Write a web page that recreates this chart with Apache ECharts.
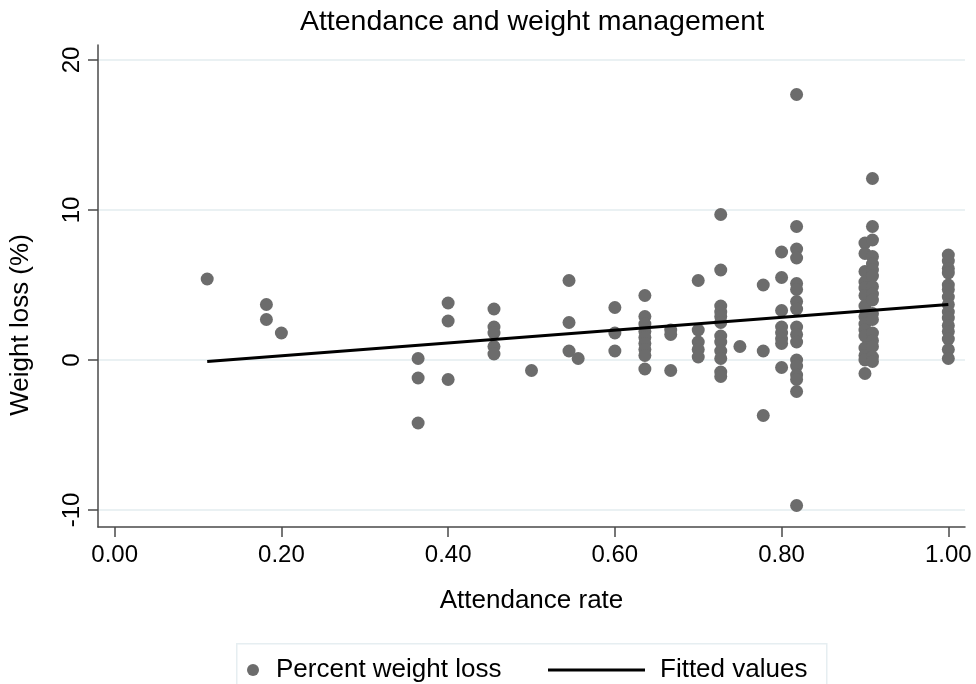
<!DOCTYPE html>
<html>
<head>
<meta charset="utf-8">
<script src="https://cdn.jsdelivr.net/npm/echarts@6/dist/echarts.min.js"></script>
<style>
html,body{margin:0;padding:0;background:#fff;}
#chart{width:976px;height:684px;}
</style>
</head>
<body>
<div id="chart"></div>
<script>
// ---- Data ----
const titleText = 'Attendance and weight management';
const xAxisTitle = 'Attendance rate';
const yAxisTitle = 'Weight loss (%)';
const scatterName = 'Percent weight loss';
const fitName = 'Fitted values';

const xTicks = [0, 0.2, 0.4, 0.6, 0.8, 1.0];
const yTicks = [-10, 0, 10, 20];

// attendance rates (x) and the weight-loss values observed at each
const rates = [0.111, 0.182, 0.2, 0.364, 0.4, 0.455, 0.5, 0.545, 0.556, 0.6, 0.636,
               0.667, 0.7, 0.727, 0.75, 0.778, 0.8, 0.818, 0.9, 0.909, 1.0];
const lossAt0111 = [5.4];
const lossAt0182 = [3.7, 2.7];
const lossAt0200 = [1.8];
const lossAt0364 = [0.1, -1.2, -4.2];
const lossAt0400 = [3.8, 2.6, -1.3];
const lossAt0455 = [3.4, 2.2, 1.8, 0.9, 0.4];
const lossAt0500 = [-0.7];
const lossAt0545 = [5.3, 2.5, 0.6];
const lossAt0556 = [0.1];
const lossAt0600 = [3.5, 1.8, 0.6];
const lossAt0636 = [4.3, 2.9, 2.4, 1.9, 1.5, 1.1, 0.7, 0.3, -0.6];
const lossAt0667 = [2.0, 1.7, -0.7];
const lossAt0700 = [5.3, 2.0, 1.2, 0.7, 0.2];
const lossAt0727 = [9.7, 6.0, 3.6, 3.2, 2.9, 2.5, 1.6, 1.2, 0.6, 0.1, -0.8, -1.1];
const lossAt0750 = [0.9];
const lossAt0778 = [5.0, 0.6, -3.7];
const lossAt0800 = [7.2, 5.5, 3.3, 2.2, 1.8, 1.4, 1.1, -0.5];
const lossAt0818 = [17.7, 8.9, 7.4, 6.8, 5.1, 4.7, 3.9, 3.4, 2.2, 1.7, 1.2, 0.0, -0.4, -1.0, -1.3, -2.1, -9.7];
const lossAt0900 = [7.8, 7.1, 5.9, 5.2, 4.8, 4.3, 3.6, 2.9, 2.4, 2.0, 1.6, 0.8, 0.3, 0.0, -0.9];
const lossAt0909 = [12.1, 8.9, 8.0, 6.9, 6.4, 6.0, 5.6, 4.9, 4.4, 4.0, 3.1, 2.7, 1.8, 1.3, 0.9, 0.2, -0.1];
const lossAt1000 = [7.0, 6.6, 6.1, 5.8, 5.0, 4.7, 4.2, 3.7, 3.2, 2.8, 2.3, 1.9, 1.4, 0.7, 0.1];

const lossByRate = [lossAt0111, lossAt0182, lossAt0200, lossAt0364, lossAt0400, lossAt0455,
  lossAt0500, lossAt0545, lossAt0556, lossAt0600, lossAt0636, lossAt0667, lossAt0700,
  lossAt0727, lossAt0750, lossAt0778, lossAt0800, lossAt0818, lossAt0900, lossAt0909, lossAt1000];

// fitted line end points
const fitRates = [0.111, 1.0];
const fitValues = [-0.1, 3.7];

// ---- Build ----
const scatterData = [];
rates.forEach((r, i) => lossByRate[i].forEach(v => scatterData.push([r, v])));
const fitData = fitRates.map((r, i) => [r, fitValues[i]]);

const FONT = '"Liberation Sans", Arial, Helvetica, sans-serif';
const axisGray = '#4a4a4a';
const gridColor = '#e3ecef';
const dotColor = '#6c6c6c';

const chart = echarts.init(document.getElementById('chart'), null, {renderer: 'canvas'});
chart.setOption({
  animation: false,
  backgroundColor: '#ffffff',
  textStyle: {fontFamily: FONT},
  title: {
    text: titleText,
    left: 532, top: 8, padding: 0,
    textAlign: 'center',
    textStyle: {fontFamily: FONT, fontSize: 28.5, fontWeight: 'normal', color: '#000'}
  },
  grid: {left: 98, right: 11, top: 45, bottom: 157, containLabel: false},
  xAxis: {
    type: 'value',
    min: -0.02, max: 1.02,
    name: xAxisTitle, nameLocation: 'middle', nameGap: 61,
    nameTextStyle: {fontFamily: FONT, fontSize: 26, color: '#000'},
    axisLine: {show: true, onZero: false, lineStyle: {color: axisGray, width: 1.5}},
    axisTick: {show: true, inside: false, length: 10, customValues: xTicks, lineStyle: {color: axisGray, width: 1.5}},
    axisLabel: {show: true, customValues: xTicks, margin: 16, fontFamily: FONT, fontSize: 24, color: '#000',
      formatter: v => v.toFixed(2)},
    splitLine: {show: false}
  },
  yAxis: {
    type: 'value',
    min: -11.133, max: 21,
    name: yAxisTitle, nameLocation: 'middle', nameGap: 64, nameRotate: 90,
    nameTextStyle: {fontFamily: FONT, fontSize: 26, color: '#000', padding: [0, 78, 0, 0]},
    axisLine: {show: true, onZero: false, lineStyle: {color: axisGray, width: 1.5}},
    axisTick: {show: true, inside: false, length: 10, customValues: yTicks, lineStyle: {color: axisGray, width: 1.5}},
    axisLabel: {show: true, customValues: yTicks, rotate: 90, margin: 14, fontFamily: FONT, fontSize: 24, color: '#000'},
    splitLine: {show: true, lineStyle: {color: gridColor, width: 1.5}}
  },
  legend: [
    {
      data: [scatterName],
      left: 247, top: 657, padding: 0,
      icon: 'circle', itemWidth: 12, itemHeight: 12,
      textStyle: {fontFamily: FONT, fontSize: 26, color: '#000', padding: [0, 0, 0, 12]},
      selectedMode: false
    },
    {
      data: [{name: fitName, icon: 'rect', itemStyle: {color: '#000'}}],
      left: 548, top: 657, padding: 0,
      itemWidth: 97, itemHeight: 3,
      textStyle: {fontFamily: FONT, fontSize: 26, color: '#000', padding: [0, 0, 0, 10]},
      selectedMode: false
    }
  ],
  graphic: [{
    type: 'rect', left: 236, top: 643, z: -1,
    shape: {width: 590, height: 60},
    style: {fill: '#ffffff', stroke: '#e6eef1', lineWidth: 1.5}
  }],
  series: [
    {
      name: scatterName, type: 'scatter',
      data: scatterData, symbol: 'circle', symbolSize: 13,
      itemStyle: {color: dotColor, opacity: 1},
      z: 2
    },
    {
      name: fitName, type: 'line',
      data: fitData, symbol: 'none', showSymbol: false,
      lineStyle: {color: '#000', width: 3},
      itemStyle: {color: '#000'},
      z: 3
    }
  ]
});
</script>
</body>
</html>
